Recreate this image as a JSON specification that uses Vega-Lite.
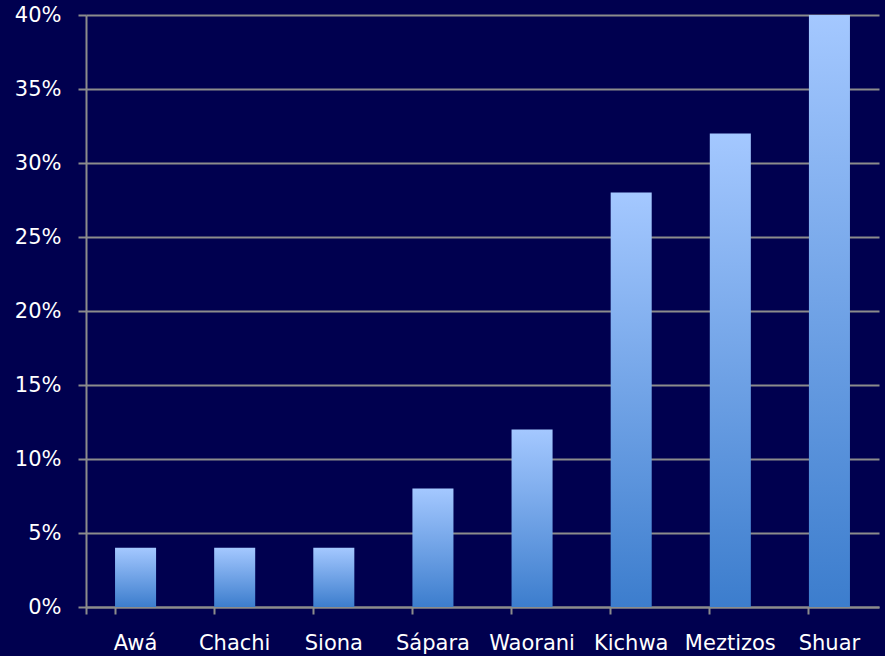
{
  "$schema": "https://vega.github.io/schema/vega-lite/v6.json",
  "autosize": "none",
  "width": 793,
  "height": 592,
  "padding": {"left": 86, "top": 15, "right": 6, "bottom": 49},
  "background": "#00004f",
  "config": {
    "view": {"stroke": null},
    "font": "DejaVu Sans"
  },
  "data": {
    "values": [
      {"group": "Awá", "share": 0.04},
      {"group": "Chachi", "share": 0.04},
      {"group": "Siona", "share": 0.04},
      {"group": "Sápara", "share": 0.08},
      {"group": "Waorani", "share": 0.12},
      {"group": "Kichwa", "share": 0.28},
      {"group": "Meztizos", "share": 0.32},
      {"group": "Shuar", "share": 0.40}
    ]
  },
  "mark": {
    "type": "bar",
    "fill": {
      "gradient": "linear",
      "x1": 0, "y1": 0, "x2": 0, "y2": 1,
      "stops": [
        {"offset": 0, "color": "#a4c8ff"},
        {"offset": 1, "color": "#3c7dcd"}
      ]
    }
  },
  "encoding": {
    "x": {
      "field": "group",
      "type": "nominal",
      "sort": null,
      "scale": {"paddingInner": 0.586, "paddingOuter": 0.293},
      "axis": {
        "title": null,
        "labelAngle": 0,
        "labelColor": "#ffffff",
        "labelFontSize": 21,
        "labelPadding": 18,
        "domainColor": "#8c8c8c",
        "domainWidth": 2,
        "tickColor": "#8c8c8c",
        "tickWidth": 2,
        "tickSize": 7,
        "bandPosition": 0,
        "tickExtra": true
      }
    },
    "y": {
      "field": "share",
      "type": "quantitative",
      "scale": {"domain": [0, 0.4], "nice": false},
      "axis": {
        "title": null,
        "format": ".0%",
        "values": [0, 0.05, 0.1, 0.15, 0.2, 0.25, 0.3, 0.35, 0.4],
        "labelColor": "#ffffff",
        "labelFontSize": 21,
        "labelPadding": 17,
        "domainColor": "#8c8c8c",
        "domainWidth": 2,
        "tickColor": "#8c8c8c",
        "tickWidth": 2,
        "tickSize": 8,
        "grid": true,
        "gridColor": "#8c8c8c",
        "gridWidth": 2
      }
    }
  }
}
